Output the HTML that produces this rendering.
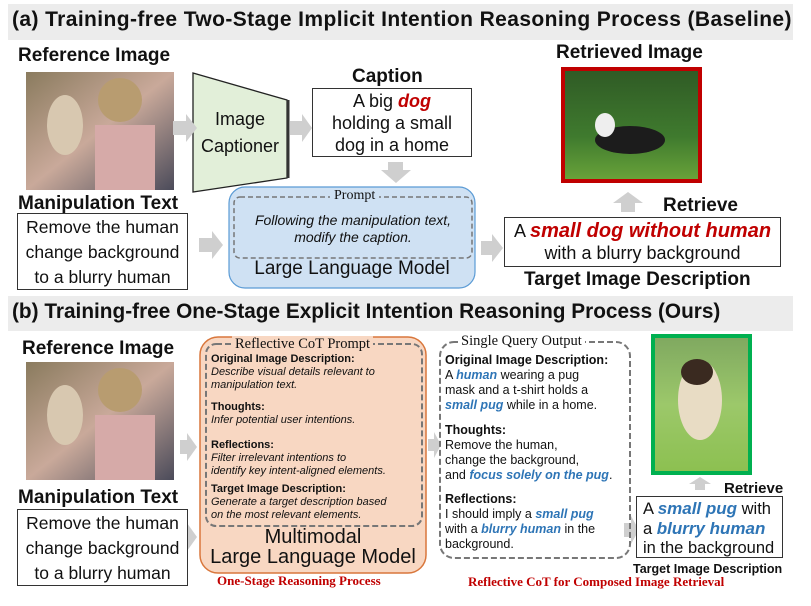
<!DOCTYPE html>
<html><head><meta charset="utf-8"><style>
body{margin:0;width:811px;height:606px;background:#fff;position:relative;overflow:hidden;font-family:"Liberation Sans","DejaVu Sans",sans-serif;color:#111}
.a{position:absolute}
.band{background:#ececec}
.t{font-weight:bold;font-size:21px;white-space:nowrap}
.lbl{font-weight:bold;font-size:19px;white-space:nowrap}
.box{border:1.5px solid #333;background:#fff;text-align:center;box-sizing:border-box}
.red{color:#c00000;font-weight:bold;font-style:italic}
.blue{color:#2e75b6;font-weight:bold;font-style:italic}
.serif{font-family:"Liberation Serif",serif}
.pr{white-space:nowrap}
.pr p{margin:0}
</style></head><body>
<div class="a band" style="left:8px;top:4px;width:785px;height:36px"></div>
<div class="a t" style="left:12px;top:8px;letter-spacing:0.4px">(a) Training-free Two-Stage Implicit Intention Reasoning Process (Baseline)</div>
<div class="a band" style="left:8px;top:296px;width:785px;height:35px"></div>
<div class="a t" style="left:12px;top:300px;font-size:20.8px">(b) Training-free One-Stage Explicit Intention Reasoning Process (Ours)</div>

<svg class="a" style="left:0;top:0" width="811" height="606">
<defs>
<linearGradient id="ph" x1="0" y1="0" x2="1" y2="1"><stop offset="0" stop-color="#8a7b5e"/><stop offset=".5" stop-color="#c9a99a"/><stop offset="1" stop-color="#4b4b5a"/></linearGradient>
<linearGradient id="gr" x1="0" y1="0" x2="0" y2="1"><stop offset="0" stop-color="#2f5a25"/><stop offset=".6" stop-color="#3f7a2e"/><stop offset="1" stop-color="#6aa43a"/></linearGradient>
<linearGradient id="gr2" x1="0" y1="0" x2="0" y2="1"><stop offset="0" stop-color="#7fa860"/><stop offset=".5" stop-color="#9cc86a"/><stop offset="1" stop-color="#8cc050"/></linearGradient>
</defs>
<rect x="26" y="72" width="148" height="118" fill="url(#ph)"/>
<ellipse cx="120" cy="100" rx="22" ry="22" fill="#b89c70"/><ellipse cx="65" cy="125" rx="18" ry="30" fill="#d8c8b0"/><rect x="95" y="125" width="60" height="65" fill="#d6aaa8"/>
<rect x="26" y="362" width="148" height="118" fill="url(#ph)"/>
<ellipse cx="120" cy="390" rx="22" ry="22" fill="#b89c70"/><ellipse cx="65" cy="415" rx="18" ry="30" fill="#d8c8b0"/><rect x="95" y="415" width="60" height="65" fill="#d6aaa8"/>
<rect x="563" y="69" width="137" height="112" fill="url(#gr)" stroke="#c00000" stroke-width="4"/>
<ellipse cx="630" cy="140" rx="35" ry="14" fill="#1c1c1c"/><ellipse cx="605" cy="125" rx="10" ry="12" fill="#eee"/>
<rect x="653" y="336" width="97" height="137" fill="url(#gr2)" stroke="#00b050" stroke-width="4"/>
<ellipse cx="700" cy="400" rx="22" ry="40" fill="#e8dcc4"/><ellipse cx="697" cy="372" rx="16" ry="13" fill="#3a2a20"/>
<polygon points="193,73 287,100 287,178 193,192" fill="#e2efd9" stroke="#222" stroke-width="1.3"/>
<line x1="288" y1="100" x2="288" y2="178" stroke="#333" stroke-width="3"/>
<g fill="#cfcfcf">
<polygon points="173,121 186,121 186,114 197,128 186,142 186,135 173,135"/>
<polygon points="290,121 302,121 302,114 312,128 302,142 302,135 290,135"/>
<polygon points="199,238 212,238 212,231 223,245 212,259 212,252 199,252"/>
<polygon points="481,241 492,241 492,234 503,248 492,262 492,255 481,255"/>
<polygon points="388,162 403,162 403,170 411,170 396,183 381,170 388,170"/>
<polygon points="621,212 635,212 635,203 643,203 628,192 613,203 621,203"/>
<polygon points="180,440 187,440 187,433 197,447 187,461 187,454 180,454"/>
<polygon points="180,530 187,530 187,523 197,537 187,551 187,544 180,544"/>
<polygon points="428,439 434,439 434,432 441,445 434,458 434,451 428,451"/>
<polygon points="624,523 631,523 631,516 639,530 631,544 631,537 624,537"/>
<polygon points="695,490 705,490 705,484 711,484 700,477 689,484 695,484"/>
</g>
<rect x="229" y="187" width="246" height="101" rx="16" fill="#cfe1f3" stroke="#5b9bd5" stroke-width="1.2"/>
<rect x="234" y="197" width="238" height="61" rx="6" fill="none" stroke="#777" stroke-width="1.5" stroke-dasharray="5,3"/>
<rect x="200" y="337" width="226" height="236" rx="18" fill="#f8d7c2" stroke="#d9773c" stroke-width="1.5"/>
<rect x="206" y="344" width="216" height="182" rx="10" fill="none" stroke="#777" stroke-width="2" stroke-dasharray="6,3"/>
<rect x="440" y="342" width="190" height="216" rx="14" fill="none" stroke="#777" stroke-width="2" stroke-dasharray="6,3"/>
</svg>
<div class="a serif" style="left:330px;top:188px;background:#cfe1f3;font-size:14px;padding:0 4px">Prompt</div>
<div class="a" style="left:234px;top:212px;width:238px;text-align:center;font-size:14px;font-style:italic;line-height:17px">Following the manipulation text,<br>modify the caption.</div>
<div class="a" style="left:229px;top:258px;width:246px;text-align:center;font-size:19px">Large Language Model</div>

<div class="a lbl" style="left:18px;top:45px">Reference Image</div>
<div class="a lbl" style="left:18px;top:193px">Manipulation Text</div>
<div class="a box" style="left:17px;top:213px;width:171px;height:77px;font-size:17.5px;line-height:25px;padding-top:1px">Remove the human<br>change background<br>to a blurry human</div>
<div class="a" style="left:195px;top:106px;width:90px;text-align:center;font-size:18px;line-height:27px">Image<br>Captioner</div>
<div class="a lbl" style="left:352px;top:66px">Caption</div>
<div class="a box" style="left:312px;top:88px;width:160px;height:69px;font-size:18px;line-height:22px;padding-top:1px">A big <span class="red">dog</span><br>holding a small<br>dog in a home</div>
<div class="a lbl" style="left:556px;top:42px">Retrieved Image</div>
<div class="a lbl" style="left:663px;top:195px">Retrieve</div>
<div class="a box" style="left:504px;top:217px;width:277px;height:50px;font-size:18px;line-height:22px;padding-top:2px">A <span class="red" style="font-size:20px">small dog without human</span><br>with a blurry background</div>
<div class="a lbl" style="left:524px;top:269px">Target Image Description</div>

<div class="a lbl" style="left:22px;top:338px">Reference Image</div>
<div class="a lbl" style="left:18px;top:487px">Manipulation Text</div>
<div class="a box" style="left:17px;top:509px;width:171px;height:77px;font-size:17.5px;line-height:25px;padding-top:1px">Remove the human<br>change background<br>to a blurry human</div>

<div class="a serif" style="left:232px;top:336px;background:#f8d7c2;font-size:14.5px;padding:0 3px">Reflective CoT Prompt</div>
<div class="a pr" style="left:211px;top:353px;width:212px;font-size:11px;line-height:13px">
<p><b>Original Image Description:</b></p><p><i>Describe visual details relevant to<br>manipulation text.</i></p>
<p style="margin-top:9px"><b>Thoughts:</b></p><p><i>Infer potential user intentions.</i></p>
<p style="margin-top:12px"><b>Reflections:</b></p><p><i>Filter irrelevant intentions to<br>identify key intent-aligned elements.</i></p>
<p style="margin-top:5px"><b>Target Image Description:</b></p><p><i>Generate a target description based<br>on the most relevant elements.</i></p>
</div>
<div class="a" style="left:200px;top:527px;width:226px;text-align:center;font-size:20px;line-height:20px">Multimodal<br>Large Language Model</div>
<div class="a serif" style="left:217px;top:573px;color:#c00000;font-weight:bold;font-size:13px">One-Stage Reasoning Process</div>

<div class="a serif" style="left:458px;top:333px;background:#fff;font-size:14.5px;padding:0 3px">Single Query Output</div>
<div class="a pr" style="left:445px;top:353px;width:185px;font-size:12.5px;line-height:15px">
<p><b>Original Image Description:</b></p><p>A <span class="blue">human</span> wearing a pug<br>mask and a t-shirt holds a<br><span class="blue">small pug</span> while in a home.</p>
<p style="margin-top:10px"><b>Thoughts:</b></p><p>Remove the human,<br>change the background,<br>and <span class="blue">focus solely on the pug</span>.</p>
<p style="margin-top:9px"><b>Reflections:</b></p><p>I should imply a <span class="blue">small pug</span><br>with a <span class="blue">blurry human</span> in the<br>background.</p>
</div>
<div class="a serif" style="left:468px;top:574px;color:#c00000;font-weight:bold;font-size:13px">Reflective CoT for Composed Image Retrieval</div>

<div class="a lbl" style="left:724px;top:480px;font-size:15px">Retrieve</div>
<div class="a box" style="left:636px;top:496px;width:147px;height:62px;font-size:16.5px;line-height:19px;text-align:left;padding:2px 0 0 6px">A <span class="blue" style="font-size:17px">small pug</span> with<br>a <span class="blue" style="font-size:17px">blurry human</span><br>in the background</div>
<div class="a lbl" style="left:633px;top:562px;font-size:12.5px">Target Image Description</div>
</body></html>
